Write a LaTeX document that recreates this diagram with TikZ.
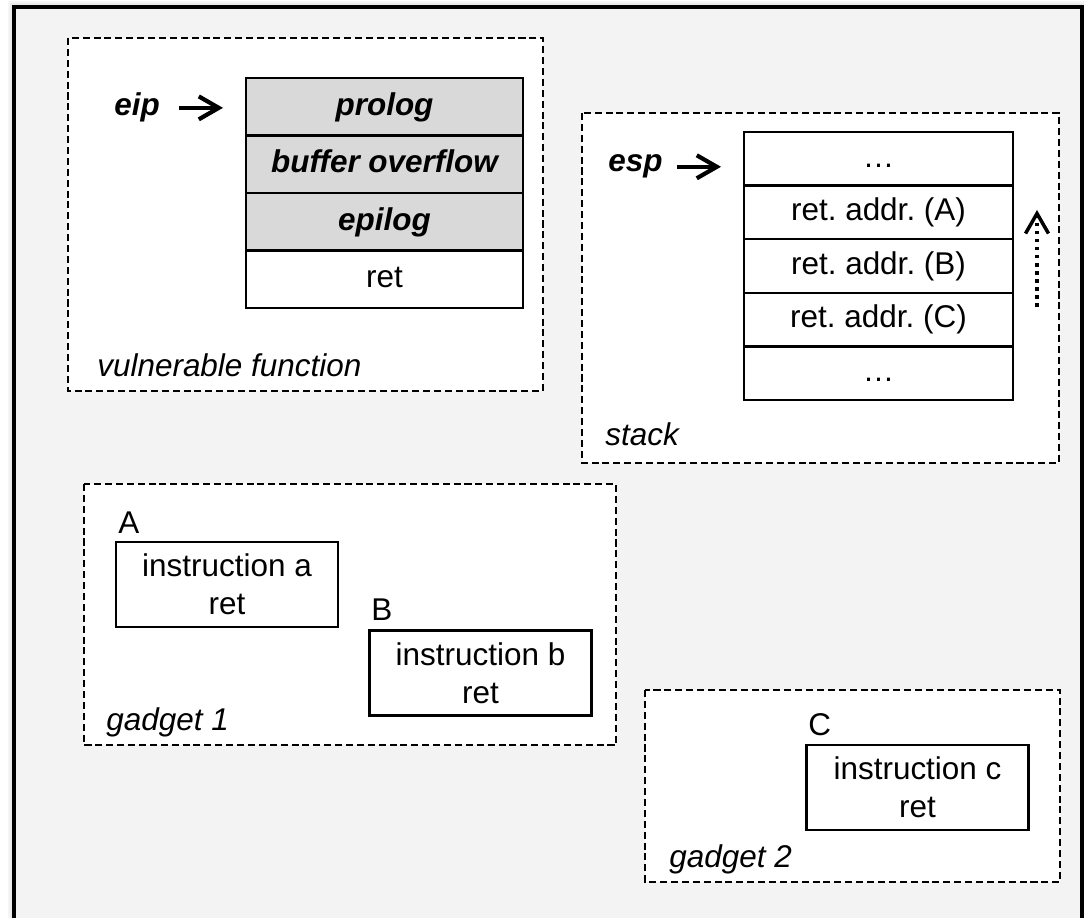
\documentclass[tikz,border=0pt]{standalone}
\usepackage{fontspec}
\setmainfont{Liberation Sans}
\usepackage{xcolor}
\usepackage{tikz}
\usetikzlibrary{arrows.meta, positioning}
\frenchspacing

\definecolor{panelgray}{RGB}{243,243,243}
\definecolor{cellgray}{RGB}{217,217,217}
\newcommand{\diagsize}{\fontsize{17.9}{21.5}\selectfont}

\tikzset{
  cell/.style={draw, line width=1.4pt, fill=white, minimum width=55.4mm, minimum height=11.5mm,
    inner sep=0pt, outer sep=0pt, text height=12.9pt, text depth=3.4pt},
  codecell/.style={cell, fill=cellgray, font=\diagsize\bfseries\itshape},
  slot/.style={draw, line width=1.4pt, fill=white, minimum width=53.8mm, minimum height=10.72mm,
    inner sep=0pt, outer sep=0pt, text height=12.9pt, text depth=3.4pt},
  gadgetbox/.style={draw, line width=1.4pt, fill=white, minimum width=44.4mm, minimum height=17mm,
    align=center, inner sep=0pt},
  group/.style={draw, fill=white, line width=1.2pt, dash pattern=on 4pt off 2.2pt},
  ptr/.style={line width=2.4pt, -{Straight Barb[length=4mm, width=4.6mm]}},
  caption/.style={anchor=base west, inner sep=0pt, font=\diagsize\itshape},
  tag/.style={anchor=base west, inner sep=0pt},
}

\begin{document}
\begin{tikzpicture}[x=0.2mm, y=-0.2mm, font=\diagsize]
  \useasboundingbox (0,0) rectangle (1084,918);

  \fill[black!4]  (8,1)  rectangle (1084,930);
  \fill[black!8]  (10,3) rectangle (1084,930);
  \fill[black!14] (12,5) rectangle (1084,930);
  \draw[line width=1.8pt, fill=panelgray] (14,7) rectangle (1082,930);

  \draw[group] (68,38) rectangle (543,391);
  \node[codecell] (prolog) at (384.5,106.75) {prolog};
  \node[codecell, below=0pt of prolog] (overflow) {buffer overflow};
  \node[codecell, below=0pt of overflow] (epilog) {epilog};
  \node[cell, below=0pt of epilog] (ret) {ret};
  \node[tag] (eip) at (114,116) {\bfseries\itshape eip};
  \draw[ptr, shorten <=3.8mm, shorten >=4.6mm] (eip.east) -- (eip.east -| prolog.west);
  \node[caption] (vulncap) at (97,376) {vulnerable function};

  \draw[group] (582,113) rectangle (1059,463);
  \node[slot] (top) at (878.5,158.8) {…};
  \node[slot, below=0pt of top] (retA) {ret. addr. (A)};
  \node[slot, below=0pt of retA] (retB) {ret. addr. (B)};
  \node[slot, below=0pt of retB] (retC) {ret. addr. (C)};
  \node[slot, below=0pt of retC] (bottom) {…};
  \node[tag] (esp) at (608,172) {\bfseries\itshape esp};
  \draw[ptr, shorten <=2.8mm, shorten >=4.6mm] (esp.east) -- (esp.east -| top.west);
  \coordinate (poptail) at (1037,307);
  \coordinate (pophead) at (1037,210);
  \draw[line width=2pt, dash pattern=on 2pt off 2.6pt, -{Straight Barb[length=4mm, width=4.6mm]}]
    (poptail) -- (pophead);
  \node[caption] (stackcap) at (605,445) {stack};

  \draw[group] (84,484) rectangle (616,745);
  \node[gadgetbox] (insA) at (227,584.5) {instruction a\\ret};
  \node[tag] (labA) at (118,533) {A};
  \node[gadgetbox] (insB) at (480.5,673) {instruction b\\ret};
  \node[tag] (labB) at (371,620) {B};
  \node[caption] (gadgetcapA) at (106,730) {gadget 1};

  \draw[group] (645,690) rectangle (1060,882);
  \node[gadgetbox] (insC) at (917.5,787.5) {instruction c\\ret};
  \node[tag] (labC) at (808,735) {C};
  \node[caption] (gadgetcapB) at (669,867) {gadget 2};

\end{tikzpicture}
\end{document}
